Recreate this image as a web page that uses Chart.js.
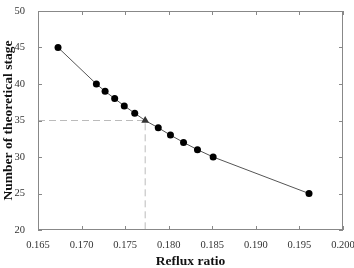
<!DOCTYPE html>
<html>
<head>
<meta charset="utf-8">
<script src="https://cdn.jsdelivr.net/npm/chart.js@4.4.1/dist/chart.umd.min.js"></script>
<style>
  html, body { margin: 0; padding: 0; background: #fff; }
</style>
</head>
<body>
<canvas id="chart" width="354" height="268"></canvas>
<script>
// reflux ratio vs number of theoretical stages
const refluxRatio = [0.1673, 0.1717, 0.1727, 0.1738, 0.1749, 0.1761, 0.1773, 0.1788, 0.1802, 0.1817, 0.1833, 0.1851, 0.1961]
const stages = [45, 40, 39, 38, 37, 36, 35, 34, 33, 32, 31, 30, 25]
const markerIndex = 6   // the triangle point

const xTicks = [0.165, 0.170, 0.175, 0.180, 0.185, 0.190, 0.195, 0.200]
const yTicks = [20, 25, 30, 35, 40, 45, 50]

const frameColor = '#888888'
const lineColor = '#555555'
const guideColor = '#bbbbbb'
const serif = "'Liberation Serif', 'Times New Roman', serif"

var mainData = []
var i
for (i = 0; i < refluxRatio.length; i++) {
    mainData.push({ x: refluxRatio[i], y: stages[i] })
}

var guideData = [
    { x: xTicks[0], y: stages[markerIndex] },
    { x: refluxRatio[markerIndex], y: stages[markerIndex] },
    { x: refluxRatio[markerIndex], y: yTicks[0] }
]

var pointStyles = refluxRatio.map(function (v, k) { return k == markerIndex ? 'triangle' : 'circle' })
var pointRadii = refluxRatio.map(function (v, k) { return k == markerIndex ? 4.5 : 3.5 })
var pointColors = refluxRatio.map(function (v, k) { return k == markerIndex ? '#333333' : '#000000' })

// box frame with inward tick marks on all four sides
const frameTicks = {
    id: 'frameTicks',
    afterDatasetsDraw(chart) {
        var ctx = chart.ctx
        var a = chart.chartArea
        var xs = chart.scales.x
        var ys = chart.scales.y
        var len = 4
        ctx.save()
        ctx.strokeStyle = frameColor
        ctx.lineWidth = 1
        ctx.strokeRect(a.left + 0.5, a.top + 0.5, a.right - a.left - 1, a.bottom - a.top - 1)
        ctx.beginPath()
        xTicks.forEach(function (t) {
            var px = Math.round(xs.getPixelForValue(t)) + 0.5
            ctx.moveTo(px, a.bottom)
            ctx.lineTo(px, a.bottom - len)
            ctx.moveTo(px, a.top)
            ctx.lineTo(px, a.top + len)
        })
        yTicks.forEach(function (t) {
            var py = Math.round(ys.getPixelForValue(t)) + 0.5
            ctx.moveTo(a.left, py)
            ctx.lineTo(a.left + len, py)
            ctx.moveTo(a.right, py)
            ctx.lineTo(a.right - len, py)
        })
        ctx.stroke()
        ctx.restore()
    }
}

var ctx = document.getElementById('chart')
var chart = new Chart(ctx, {
    type: 'scatter',
    data: {
        datasets: [{
            label: 'guide',
            data: guideData,
            showLine: true,
            borderColor: guideColor,
            borderWidth: 1,
            borderDash: [7, 4],
            pointRadius: 0,
            order: 2
        }, {
            label: 'stages',
            data: mainData,
            showLine: true,
            borderColor: lineColor,
            borderWidth: 1,
            pointStyle: pointStyles,
            pointRadius: pointRadii,
            pointBackgroundColor: pointColors,
            pointBorderColor: pointColors,
            pointBorderWidth: 0,
            order: 1
        }]
    },
    options: {
        responsive: false,
        animation: false,
        layout: { padding: { top: 11, right: 11, left: 0, bottom: 0 } },
        plugins: {
            legend: { display: false },
            tooltip: { enabled: false }
        },
        scales: {
            x: {
                type: 'linear',
                min: 0.165,
                max: 0.200,
                afterBuildTicks: function (scale) { scale.ticks = xTicks.map(function (v) { return { value: v } }) },
                afterFit: function (scale) {
                    scale.height = 38
                    scale.paddingLeft = 0
                    scale.paddingRight = 0
                },
                grid: { display: false },
                border: { display: false },
                ticks: {
                    color: '#333',
                    font: { family: serif, size: 10.5 },
                    padding: 1,
                    maxRotation: 0,
                    callback: function (v) { return Number(v).toFixed(3) }
                },
                title: {
                    display: true,
                    text: 'Reflux ratio',
                    color: '#111',
                    font: { family: serif, size: 13.5, weight: 'bold' },
                    padding: { top: 6, bottom: -2 }
                }
            },
            y: {
                min: 20,
                max: 50,
                afterBuildTicks: function (scale) { scale.ticks = yTicks.map(function (v) { return { value: v } }) },
                afterFit: function (scale) {
                    scale.width = 38
                    scale.paddingTop = 0
                    scale.paddingBottom = 0
                },
                grid: { display: false },
                border: { display: false },
                ticks: {
                    color: '#333',
                    font: { family: serif, size: 10.5 },
                    padding: 5
                },
                title: {
                    display: true,
                    text: 'Number of theoretical stage',
                    color: '#111',
                    font: { family: serif, size: 13.5, weight: 'bold' },
                    padding: { top: 0, bottom: 0 }
                }
            }
        }
    },
    plugins: [frameTicks]
})
</script>
</body>
</html>
